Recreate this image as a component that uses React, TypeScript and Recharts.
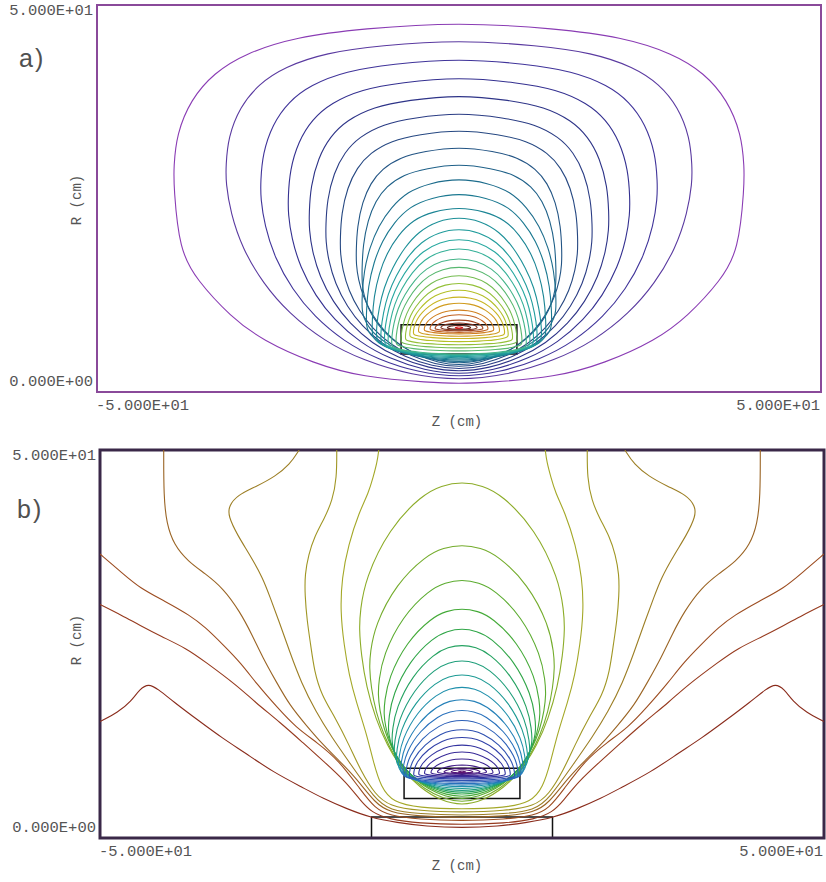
import { LineChart, Line, XAxis, YAxis, ReferenceArea } from "recharts"

// ---------- panel a) : closed flux contours round the coil (cm) ----------
const A_TOP = [47.8, 45.5, 43.1, 40.7, 38.4, 36.1, 33.9, 31.7, 29.5, 27.6, 25.7, 23.9, 22.6, 21.1, 19.8, 18.6, 17.3, 16.2, 15.1, 14.1, 13.2, 12.3, 11.5, 10.6, 10.0, 9.3, 8.9, 8.6, 8.4]
const A_HALF_WIDTH = [39.4, 32.2, 27.4, 23.6, 20.7, 18.4, 16.4, 14.2, 13.4, 13.4, 12.8, 12.0, 11.4, 10.8, 10.3, 9.8, 9.3, 8.7, 8.0, 7.4, 6.8, 6.3, 5.6, 4.8, 4.0, 3.3, 2.5, 1.6, 0.5]
const A_WIDEST_AT = [26.5, 27, 25, 23, 21, 19.5, 18, 16.5, 14, 10.5, 8.5, 7.4, 6.9, 6.5, 6.3, 6.1, 6.0, 6.2, 6.5, 6.8, 7.2, 7.5, 7.8, 8.0, 8.1, 8.2, 8.3, 8.3, 8.3]
const A_BOTTOM = [1.1, 1.5, 1.9, 2.25, 2.6, 2.9, 3.2, 3.45, 3.7, 3.9, 4.1, 4.25, 4.4, 4.55, 4.7, 4.8, 4.9, 5.3, 5.7, 6.1, 6.5, 6.9, 7.2, 7.5, 7.7, 7.9, 8.0, 8.1, 8.2]
// upper outline: 0 = squarish outer loops, 1 = in between, 2 = round inner loops
const A_SHAPE = [0, 0, 0, 0, 0, 0, 0, 0, 0, 1, 1, 1, 2, 2, 2, 2, 2, 2, 2, 2, 2, 2, 2, 2, 2, 2, 2, 2, 2]
// lower outline: 0 = flat outermost loop, 1 = rounder
const A_LOWER = [0, 1, 1, 1, 1, 1, 1, 1, 1, 1, 1, 1, 1, 1, 1, 1, 1, 1, 1, 1, 1, 1, 1, 1, 1, 1, 1, 1, 1]
const A_COLORS = [
  "#8a3cb4", "#5a3aa0", "#40349a", "#343090", "#2e3488", "#2a3c84", "#264882", "#225484", "#1e6088", "#1c6c8c",
  "#1a7890", "#1a8494", "#1c9098", "#209c9c", "#28a8a0", "#34b098", "#44b488", "#58b870", "#74bc50", "#94c038",
  "#b4c028", "#c8b420", "#d09c20", "#d08020", "#c06020", "#a04420", "#803020", "#602018", "#d02020",
]
const A_COIL = [-8, 8, 4.9, 8.7]

// ---------- panel b) : open contours (right half, from the axis outwards) ----------
const B_OPEN = [
  [[0, 1.3], [5, 1.5], [9, 2.0], [12.6, 2.6], [16, 3.8], [19.2, 5.1], [22, 6.5], [26.1, 8.5], [30, 11.0], [33, 12.8], [36.5, 15.2], [39.9, 17.6], [42, 19.2], [43.3, 19.9], [44.5, 19.2], [45.7, 17.6], [47.5, 16.2], [50, 15.0]],
  [[0, 1.7], [6, 1.9], [10, 2.4], [12.5, 3.3], [14, 4.8], [16, 7.2], [19, 9.8], [22, 12.3], [25, 14.8], [28.7, 17.6], [31, 19.6], [35.6, 22.8], [38, 24.4], [41.6, 26.0], [44.5, 27.4], [47, 28.7], [50, 30.1]],
  [[0, 2.2], [6, 2.4], [10, 2.9], [12, 3.8], [14, 6.2], [17, 10.0], [20, 12.3], [22.9, 14.2], [25.5, 16.8], [28.4, 19.9], [30.5, 22.5], [33, 24.9], [35.5, 27.2], [37.6, 28.7], [41, 30.5], [44.5, 32.2], [47, 34.2], [50, 36.6]],
  [[0, 2.6], [6, 2.8], [10, 3.3], [12, 4.5], [14.6, 7.7], [17, 10], [19.2, 12.0], [21.5, 14.5], [23.8, 17.1], [25.7, 20.2], [27.5, 23.2], [29, 26.2], [30.7, 29.2], [33, 32.2], [35.5, 34.1], [37.8, 35.6], [39.8, 37.8], [40.8, 40.5], [41.2, 44], [41.2, 50]],
  [[0, 2.9], [6, 3.1], [10, 3.6], [12, 5.0], [15.6, 9.8], [18, 13], [20.2, 16.3], [22.2, 20], [23.8, 24.0], [25.3, 28], [26.5, 31], [27.5, 33.5], [29.3, 36.5], [31, 39], [32.3, 41.5], [32.2, 42.8], [31, 44.2], [28.4, 45.3], [25.8, 46.6], [23.8, 48.1], [22.5, 50]],
  [[0, 3.3], [6, 3.5], [10, 4.1], [12, 5.6], [14, 8.7], [15.6, 12.0], [17.5, 15.5], [19.4, 18.4], [20.4, 21.5], [20.9, 24.9], [21.4, 28], [21.7, 31.3], [21.7, 34], [21.2, 36.5], [20.4, 38.8], [19.0, 41.2], [17.9, 43.5], [17.3, 46.4], [17.3, 50]],
  [[0, 3.7], [6, 3.9], [9.5, 4.6], [11.2, 6.5], [12.3, 10], [13.2, 13.5], [14.6, 17.5], [15.6, 21], [16.3, 24.9], [16.8, 29.2], [16.6, 33.5], [15.7, 37.8], [14.2, 42.0], [12.9, 44.5], [12.3, 46.4], [11.7, 48.5], [11.5, 50]],
]
// closed arches above the coil in b)
const B_TOP = [45.9, 37.8, 33.3, 29.6, 27.0, 24.9, 22.9, 21.1, 19.5, 17.9, 16.5, 15.2, 14.0, 13.0, 12.0, 11.1, 10.2, 9.4, 9.0, 8.8, 8.6]
const B_HALF_WIDTH = [14.2, 12.8, 11.6, 10.8, 10.2, 9.7, 9.4, 9.1, 8.8, 8.5, 8.2, 7.8, 7.3, 6.7, 6.0, 5.2, 4.3, 3.4, 2.5, 1.5, 0.5]
const B_WIDEST_AT = [27, 22, 18.5, 16, 14, 12.5, 11, 10, 9.2, 8.6, 8.2, 8.0, 8.0, 8.1, 8.2, 8.3, 8.4, 8.5, 8.5, 8.5, 8.5]
const B_BOTTOM = [4.2, 4.6, 5.0, 5.3, 5.6, 5.85, 6.1, 6.35, 6.6, 6.8, 7.0, 7.2, 7.4, 7.6, 7.75, 7.9, 8.05, 8.2, 8.3, 8.4, 8.45]
const B_COLORS = [
  "#8a2c1c", "#963a1e", "#9c4c20", "#9a6424", "#9c7e24", "#a09624", "#a4a828",
  "#8cac28", "#74ac2c", "#5cac30", "#44aa38", "#30a648", "#24a260", "#1e9e7a", "#1c9a94", "#2090ac", "#2480b8",
  "#2870bc", "#2c60b8", "#2e50b0", "#3040a8", "#3434a0", "#382a98", "#3c2490", "#442088", "#4c1c80", "#541878", "#5c1470",
]
const B_COIL = [-8, 8, 5.1, 9.0]
const B_PLATE = [-12.5, 12.5, 0, 2.7]

// loop outlines, normalised
const LOWER_SHAPES = [
  [[0, -1], [0.1, -0.996], [0.34, -0.968], [0.51, -0.898], [0.69, -0.78], [0.8, -0.661], [0.92, -0.472], [0.98, -0.323], [1, 0]],
  [[0, -1], [0.2, -0.975], [0.41, -0.9], [0.58, -0.8], [0.73, -0.66], [0.84, -0.51], [0.93, -0.33], [0.98, -0.15], [1, 0]],
]
const UPPER_SHAPES_A = [
  [[1, 0.12], [0.99, 0.32], [0.94, 0.53], [0.86, 0.69], [0.75, 0.81], [0.57, 0.91], [0.34, 0.96], [0, 1]],
  [[1, 0.11], [0.98, 0.3], [0.92, 0.48], [0.83, 0.64], [0.7, 0.78], [0.53, 0.9], [0.3, 0.965], [0, 1]],
  [[1, 0.1], [0.97, 0.25], [0.91, 0.42], [0.81, 0.58], [0.66, 0.75], [0.49, 0.88], [0.26, 0.97], [0, 1]],
]
const UPPER_SHAPE_B = [[0.99, 0.12], [0.94, 0.34], [0.71, 0.68], [0.39, 0.91], [0.2, 0.975], [0, 1]]

type Pt = { z: number; r: number }

// closed loop (no repeated end point, drawn with basisClosed)
function loop(top: number, half: number, widest: number, bottom: number, lower: number[][], upper: number[][]): Pt[] {
  const right: Pt[] = [
    ...lower.map(([f, l]) => ({ z: f * half, r: widest + l * (widest - bottom) })),
    ...upper.map(([f, u]) => ({ z: f * half, r: widest + u * (top - widest) })),
  ]
  const left = right.slice(1, -1).reverse().map((p) => ({ z: -p.z, r: p.r }))
  return [...right, ...left]
}

function mirrored(half: number[][]): Pt[] {
  const right = half.map(([z, r]) => ({ z, r }))
  const left = right.slice(1).reverse().map((p) => ({ z: -p.z, r: p.r }))
  return [...left, ...right]
}

const CONTOURS_A = A_TOP.map((t, i) => ({
  pts: loop(t, A_HALF_WIDTH[i], A_WIDEST_AT[i], A_BOTTOM[i], LOWER_SHAPES[A_LOWER[i]], UPPER_SHAPES_A[A_SHAPE[i]]),
  color: A_COLORS[i],
  closed: true,
}))

const CONTOURS_B = [
  ...B_OPEN.map((h) => ({ pts: mirrored(h), closed: false })),
  ...B_TOP.map((t, i) => ({
    pts: loop(t, B_HALF_WIDTH[i], B_WIDEST_AT[i], B_BOTTOM[i], LOWER_SHAPES[1], UPPER_SHAPE_B),
    closed: true,
  })),
].map((c, i) => ({ ...c, color: B_COLORS[i] }))

const fmtE = (v: number) => {
  if (v === 0) return "0.000E+00"
  const e = Math.floor(Math.log10(Math.abs(v)))
  const m = v / Math.pow(10, e)
  return `${m.toFixed(3)}E${e >= 0 ? "+" : "-"}${String(Math.abs(e)).padStart(2, "0")}`
}

const MONO = "'Liberation Mono', 'DejaVu Sans Mono', monospace"
const tickStyle = { fontFamily: MONO, fontSize: 15.5, fill: "#555" }

// eslint-disable-next-line @typescript-eslint/no-explicit-any
const XTick = (p: any) => {
  const v = p.payload.value
  return (
    <text x={p.x - 1} y={p.y + 12} textAnchor={v < 0 ? "start" : "end"} dominantBaseline="central" style={tickStyle}>
      {fmtE(v)}
    </text>
  )
}

// eslint-disable-next-line @typescript-eslint/no-explicit-any
const YTick = (p: any) => {
  const v = p.payload.value
  return (
    <text x={p.x} y={p.y + (v > 0 ? 6 : -10)} textAnchor="end" dominantBaseline="central" style={tickStyle}>
      {fmtE(v)}
    </text>
  )
}

function Panel({
  contours,
  height,
  top,
  right,
  xAxisH,
  yAxisW,
  border,
  borderW,
  boxes,
}: {
  contours: { pts: Pt[]; color: string; closed: boolean }[]
  height: number
  top: number
  right: number
  xAxisH: number
  yAxisW: number
  border: string
  borderW: number
  boxes: number[][]
}) {
  return (
    <LineChart width={826} height={height} margin={{ top, right, bottom: 0, left: 0 }}>
      <XAxis
        dataKey="z"
        type="number"
        domain={[-50, 50]}
        ticks={[-50, 50]}
        interval={0}
        allowDataOverflow
        axisLine={false}
        tickLine={false}
        tickSize={0}
        height={xAxisH}
        tick={(p) => <XTick {...p} />}
      />
      <YAxis
        type="number"
        domain={[0, 50]}
        ticks={[0, 50]}
        interval={0}
        allowDataOverflow
        axisLine={false}
        tickLine={false}
        tickSize={0}
        tickMargin={4}
        width={yAxisW}
        tick={(p) => <YTick {...p} />}
      />
      {contours.map((c, i) => (
        <Line
          key={i}
          data={c.pts}
          dataKey="r"
          type={c.closed ? "basisClosed" : "basis"}
          stroke={c.color}
          strokeWidth={1.1}
          dot={false}
          activeDot={false}
          isAnimationActive={false}
        />
      ))}
      {boxes.map(([z1, z2, r1, r2], i) => (
        <ReferenceArea key={i} x1={z1} x2={z2} y1={r1} y2={r2} fill="none" stroke="#111" strokeWidth={1.5} ifOverflow="visible" />
      ))}
      <ReferenceArea x1={-50} x2={50} y1={0} y2={50} fill="none" stroke={border} strokeWidth={borderW} ifOverflow="visible" />
    </LineChart>
  )
}

const textBase = { position: "absolute" as const, fontFamily: MONO, fontSize: 14, color: "#555", textAlign: "center" as const, lineHeight: "18px" }
const tagStyle = { position: "absolute" as const, fontFamily: "'Liberation Sans', Arial, sans-serif", fontSize: 25, lineHeight: "25px", letterSpacing: 2, color: "#505050" }

export default function App() {
  return (
    <div style={{ position: "absolute", left: 0, top: 0, width: 826, height: 882, background: "#fff", overflow: "hidden" }}>
      <div style={{ position: "absolute", left: 0, top: 0 }}>
        <Panel contours={CONTOURS_A} height={440} top={5} right={5} xAxisH={48} yAxisW={97} border="#8a4a9a" borderW={2} boxes={[A_COIL]} />
      </div>
      <div style={{ position: "absolute", left: 0, top: 440 }}>
        <Panel contours={CONTOURS_B} height={442} top={10} right={2} xAxisH={44} yAxisW={100} border="#3a2848" borderW={3} boxes={[B_COIL, B_PLATE]} />
      </div>
      <div style={{ ...tagStyle, left: 19, top: 46 }}>a)</div>
      <div style={{ ...tagStyle, left: 17, top: 497 }}>b)</div>
      <div style={{ ...textBase, left: 417, top: 413, width: 80 }}>Z (cm)</div>
      <div style={{ ...textBase, left: 417, top: 857, width: 80 }}>Z (cm)</div>
      <div style={{ ...textBase, left: 37, top: 191, width: 80, transform: "rotate(-90deg)" }}>R (cm)</div>
      <div style={{ ...textBase, left: 37, top: 631, width: 80, transform: "rotate(-90deg)" }}>R (cm)</div>
    </div>
  )
}
